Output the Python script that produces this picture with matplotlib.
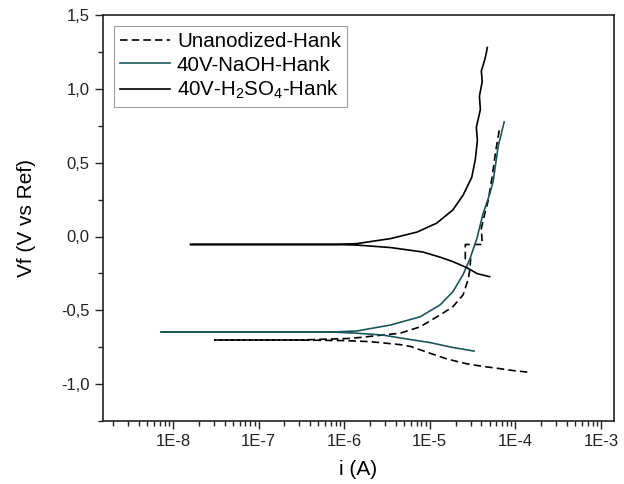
import matplotlib
matplotlib.use("Agg")
import matplotlib.pyplot as plt
from matplotlib.ticker import FixedLocator, FuncFormatter, LogLocator, NullFormatter, MultipleLocator

plt.rcParams['font.family'] = ['Liberation Sans', 'DejaVu Sans']
plt.rcParams['mathtext.fontset'] = 'custom'
plt.rcParams['mathtext.rm'] = 'Liberation Sans'
plt.rcParams['mathtext.default'] = 'regular'

# Unanodized-Hank (dashed); cathodic branch listed from high current down to Ecorr
un_cat_i = [1.38e-4, 1.0e-4, 6.6e-5, 4.0e-5, 2.7e-5, 1.6e-5, 1.0e-5, 6.0e-6,
            4.5e-6, 2.0e-6, 1.0e-6, 3.0e-7, 3.1e-8]
un_cat_v = [-0.918, -0.910, -0.895, -0.878, -0.862, -0.830, -0.790, -0.745,
            -0.732, -0.712, -0.705, -0.701, -0.701]
un_an_i = [3.1e-8, 3.0e-7, 1.2e-6, 4.5e-6, 7.7e-6, 1.32e-5, 1.86e-5, 2.45e-5,
           2.82e-5, 2.95e-5, 3.0e-5, 2.6e-5, 2.6e-5, 4.1e-5, 4.0e-5, 4.37e-5,
           4.79e-5, 5.37e-5, 5.89e-5, 6.6e-5]
un_an_v = [-0.701, -0.701, -0.690, -0.655, -0.612, -0.531, -0.476, -0.395,
           -0.286, -0.218, -0.150, -0.150, -0.054, -0.054, 0.054, 0.150,
           0.238, 0.408, 0.578, 0.748]

# 40V-NaOH-Hank
na_cat_i = [3.3e-5, 1.8e-5, 1.0e-5, 4.5e-6, 2.8e-6, 1.4e-6, 7.9e-7, 7.2e-9]
na_cat_v = [-0.776, -0.750, -0.718, -0.687, -0.667, -0.655, -0.648, -0.646]
na_an_i = [7.2e-9, 7.9e-7, 1.4e-6, 3.5e-6, 7.7e-6, 1.32e-5, 1.86e-5, 2.45e-5,
           2.95e-5, 3.55e-5, 4.17e-5, 5.0e-5, 5.5e-5, 6.3e-5, 7.4e-5]
na_an_v = [-0.646, -0.646, -0.640, -0.599, -0.544, -0.463, -0.374, -0.258,
           -0.150, -0.014, 0.150, 0.286, 0.374, 0.612, 0.776]

# 40V-H2SO4-Hank
hs_cat_i = [5.0e-5, 3.6e-5, 2.7e-5, 1.86e-5, 1.32e-5, 8.3e-6, 3.5e-6, 1.41e-6,
            7.9e-7, 1.6e-8]
hs_cat_v = [-0.272, -0.252, -0.211, -0.170, -0.140, -0.105, -0.075, -0.058,
            -0.054, -0.054]
hs_an_i = [1.6e-8, 7.9e-7, 1.41e-6, 3.5e-6, 7.1e-6, 1.2e-5, 1.86e-5, 2.45e-5,
           3.09e-5, 3.4e-5, 3.6e-5, 3.5e-5, 3.9e-5, 3.8e-5, 4.1e-5, 4.0e-5,
           4.4e-5, 4.6e-5, 4.7e-5]
hs_an_v = [-0.054, -0.054, -0.048, -0.014, 0.030, 0.090, 0.180, 0.280,
           0.40, 0.52, 0.65, 0.74, 0.86, 0.95, 1.05, 1.12,
           1.20, 1.25, 1.28]

x_ticks = [1e-8, 1e-7, 1e-6, 1e-5, 1e-4, 1e-3]
x_labels = ['1E-8', '1E-7', '1E-6', '1E-5', '1E-4', '1E-3']

fig = plt.figure(figsize=(6.24, 4.84), dpi=100)
ax = fig.add_axes([0.165, 0.130, 0.819, 0.839])

ax.plot(un_cat_i + un_an_i, un_cat_v + un_an_v, color='black',
        lw=1.2, linestyle=(0, (4.5, 2.5)), label='Unanodized-Hank')
ax.plot(na_cat_i + na_an_i, na_cat_v + na_an_v, color='#1c5656', lw=1.2,
        label='40V-NaOH-Hank')
ax.plot(hs_cat_i + hs_an_i, hs_cat_v + hs_an_v, color='black', lw=1.2,
        label=r'40V-H$_2$SO$_4$-Hank')

ax.set_xscale('log')
ax.set_xlim(1.52e-9, 1.42e-3)
ax.set_ylim(-1.25, 1.5)
ax.xaxis.set_major_locator(FixedLocator(x_ticks))
ax.xaxis.set_major_formatter(FuncFormatter(lambda v, p: x_labels[x_ticks.index(v)] if v in x_ticks else ''))
ax.xaxis.set_minor_locator(LogLocator(base=10, subs=range(2, 10), numticks=20))
ax.xaxis.set_minor_formatter(NullFormatter())
ax.yaxis.set_major_locator(FixedLocator([-1.0, -0.5, 0.0, 0.5, 1.0, 1.5]))
ax.yaxis.set_major_formatter(FuncFormatter(lambda v, p: f'{v:.1f}'.replace('.', ',')))
ax.yaxis.set_minor_locator(MultipleLocator(0.25))

ax.tick_params(which='both', direction='out', top=False, right=False, labelsize=12, colors='#222222')
ax.tick_params(which='major', length=6, width=1)
ax.tick_params(which='minor', length=3.5, width=1)
for s in ax.spines.values():
    s.set_linewidth(1.2)
    s.set_color('#222222')

ax.set_xlabel('i (A)', fontsize=15, labelpad=8)
ax.set_ylabel('Vf (V vs Ref)', fontsize=15, labelpad=18)

leg = ax.legend(loc='upper left', fontsize=14.8, frameon=True, fancybox=False,
                edgecolor='#888888', handlelength=2.4, handletextpad=0.35,
                labelspacing=0.2, borderpad=0.3, borderaxespad=0.55)
leg.get_frame().set_linewidth(0.8)

fig.savefig('out.png', dpi=100)
